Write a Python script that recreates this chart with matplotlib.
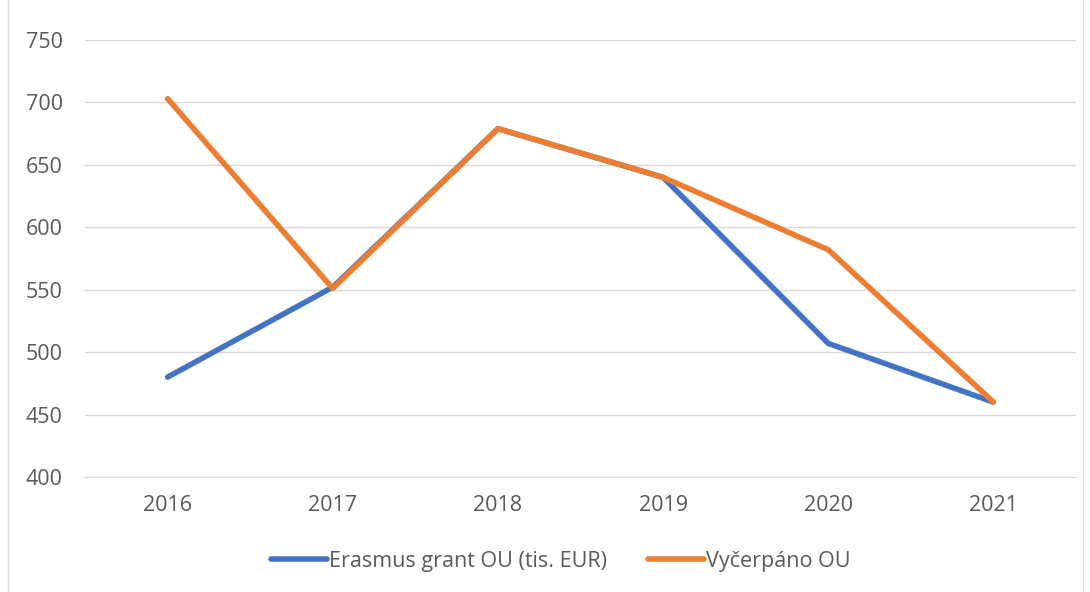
import matplotlib.pyplot as plt
from matplotlib.lines import Line2D

years = ['2016', '2017', '2018', '2019', '2020', '2021']
grant = [480, 552, 679, 640, 507, 460]
vycerpano = [703, 551, 679, 640, 582, 460]

plt.rcParams['font.family'] = ['Open Sans', 'DejaVu Sans']

fig = plt.figure(figsize=(10.9, 5.92), dpi=100)
ax = fig.add_axes([85 / 1090, 1 - 477 / 592, (1076 - 85) / 1090, (477 - 40) / 592])

x = range(len(years))
ax.plot(x, grant, color='#4472C4', lw=4, solid_capstyle='round', solid_joinstyle='round',
        label='Erasmus grant OU (tis. EUR)')
ax.plot(x, vycerpano, color='#ED7D31', lw=4, solid_capstyle='round', solid_joinstyle='round',
        label='Vyčerpáno OU')

ax.set_xlim(-0.5, 5.5)
ax.set_ylim(400, 750)
ax.set_yticks(range(400, 751, 50))
ax.set_xticks(list(x))
ax.set_xticklabels(years)
ax.grid(axis='y', color='#D9D9D9', lw=1)
ax.set_axisbelow(True)
for s in ['top', 'right', 'left']:
    ax.spines[s].set_visible(False)
ax.spines['bottom'].set_color('#D9D9D9')
ax.tick_params(axis='both', length=0, labelsize=15.5, colors='#595959')
ax.tick_params(axis='y', pad=16)
ax.tick_params(axis='x', pad=13)

ax.legend(loc='upper center', bbox_to_anchor=(0.48, -0.125), ncol=2, frameon=False,
          fontsize=15.5, labelcolor='#595959', handlelength=2.6, handletextpad=0.1,
          columnspacing=1.9)

# chart border
fig.add_artist(Line2D([8 / 1090, 8 / 1090], [0, 1], color='#D9D9D9', lw=1))
fig.add_artist(Line2D([1083 / 1090, 1083 / 1090], [0, 1], color='#D9D9D9', lw=1))

fig.savefig('out.png', dpi=100)
